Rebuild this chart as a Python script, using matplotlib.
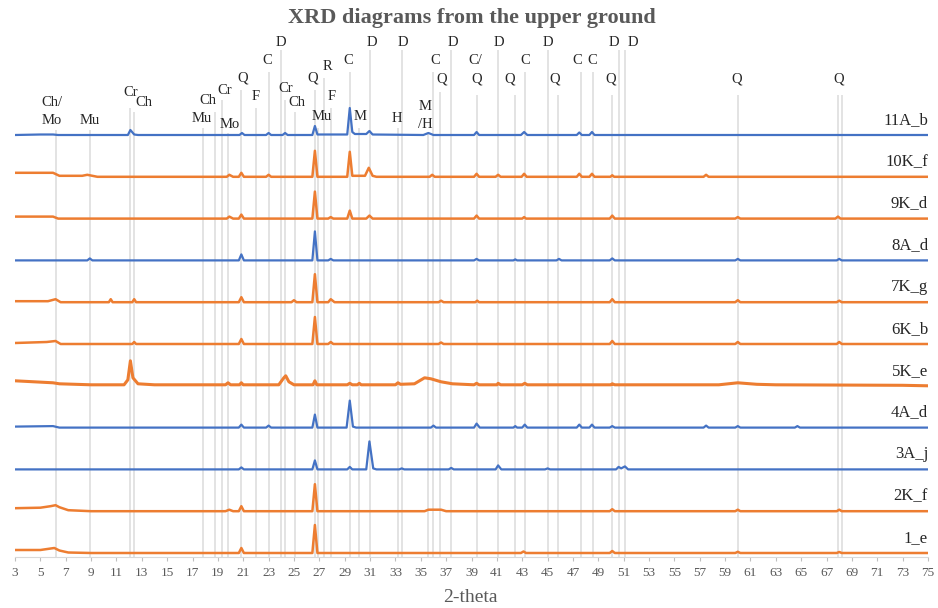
import numpy as np
import matplotlib
matplotlib.use("Agg")
import matplotlib.pyplot as plt

plt.rcParams['font.family'] = ['Liberation Serif', 'DejaVu Serif']

# samples, bottom to top
samples = ['1_e', '2K_f', '3A_j', '4A_d', '5K_e', '6K_b', '7K_g', '8A_d', '9K_d', '10K_f', '11A_b']
colors = ['#ED7D31', '#ED7D31', '#4472C4', '#4472C4', '#ED7D31', '#ED7D31',
          '#ED7D31', '#4472C4', '#ED7D31', '#ED7D31', '#4472C4']

# (2-theta, intensity above each trace's own baseline)
traces = {
    '1_e': [(3, 3), (5.0, 3), (6.1, 5), (6.5, 2.5), (7.2, 0.5), (9, 0), (20.65, 0), (20.85, 5), (21.05, 0),
            (26.45, 0), (26.65, 28), (26.85, 0), (42.9, 0), (43.1, 1.5), (43.3, 0), (49.9, 0), (50.1, 2),
            (50.3, 0), (59.8, 0), (60.0, 1.2), (60.2, 0), (67.8, 0), (68.0, 1), (68.2, 0), (75, 0)],
    '2K_f': [(3, 3), (5.0, 3.5), (5.8, 5), (6.2, 6), (6.5, 4), (7.2, 1), (9, 0), (19.6, 0), (19.9, 1.5),
             (20.2, 0), (20.65, 0), (20.85, 5), (21.05, 0), (26.45, 0), (26.65, 27), (26.85, 0), (35.3, 0),
             (35.6, 1.5), (36.6, 1.5), (37.0, 0), (49.9, 0), (50.1, 2), (50.3, 0), (59.8, 0), (60.0, 1.5),
             (60.2, 0), (67.8, 0), (68.0, 1.5), (68.2, 0), (75, 0)],
    '3A_j': [(3, 0), (20.65, 0), (20.85, 2), (21.05, 0), (26.45, 0), (26.65, 9), (26.85, 0), (29.2, 0),
             (29.4, 2.5), (29.6, 0), (30.7, 0), (30.95, 28), (31.25, 1), (31.5, 0), (33.3, 0), (33.5, 1),
             (33.7, 0), (37.2, 0), (37.4, 1.5), (37.6, 0), (40.9, 0), (41.1, 4), (41.35, 0), (44.8, 0),
             (45.0, 1), (45.2, 0), (50.4, 0), (50.6, 2.5), (50.8, 1), (51.1, 3), (51.35, 0), (75, 0)],
    '4A_d': [(3, 1), (6.0, 1.5), (6.5, 0), (20.65, 0), (20.85, 3), (21.05, 0), (22.8, 0), (23.0, 2),
             (23.2, 0), (26.45, 0), (26.65, 13), (26.85, 0), (29.15, 0), (29.4, 27), (29.65, 1), (29.9, 0),
             (35.8, 0), (36.0, 2), (36.2, 0), (39.2, 0), (39.4, 4), (39.65, 0), (42.3, 0), (42.45, 1.5),
             (42.6, 0), (43.0, 0), (43.2, 3), (43.4, 0), (47.3, 0), (47.5, 3), (47.7, 0), (48.3, 0),
             (48.5, 3), (48.7, 0), (49.9, 0), (50.1, 1.5), (50.3, 0), (57.3, 0), (57.5, 2), (57.7, 0),
             (59.8, 0), (60.0, 1.5), (60.2, 0), (64.5, 0), (64.7, 1.5), (64.9, 0), (75, 0)],
    '5K_e': [(3, 5), (4.5, 4), (6.0, 3), (6.5, 2), (9, 1), (11.6, 1), (11.9, 6), (12.1, 25), (12.3, 8),
             (12.7, 2), (14, 1), (19.6, 1), (19.8, 3), (20.0, 1), (20.7, 1), (20.85, 3), (21.0, 1),
             (23.8, 1), (24.2, 8), (24.35, 10), (24.6, 4), (25.0, 1), (26.5, 1), (26.65, 5), (26.8, 1),
             (29.2, 1), (29.4, 2.5), (29.6, 1), (30.0, 1), (30.15, 2.5), (30.3, 1), (33.0, 1), (33.2, 3),
             (33.4, 1.5), (34.5, 2), (35.3, 8), (35.8, 7), (36.6, 4), (37.5, 2), (39.2, 1), (39.4, 2.5),
             (39.6, 1), (41.0, 1), (41.1, 2.5), (41.3, 1), (43.0, 1), (43.2, 2.5), (43.4, 1), (50.0, 1),
             (50.1, 2), (50.3, 1), (58.5, 1), (60.0, 3), (61.5, 1.5), (63, 1), (73, 0.5), (75, 0)],
    '6K_b': [(3, 1), (5.5, 2), (6.2, 3), (6.6, 0), (12.25, 0), (12.4, 2), (12.55, 0), (20.65, 0),
             (20.85, 5), (21.05, 0), (26.45, 0), (26.65, 27), (26.85, 0), (27.7, 0), (27.9, 2), (28.1, 0),
             (36.4, 0), (36.6, 1.5), (36.8, 0), (49.9, 0), (50.1, 3), (50.3, 0), (59.8, 0), (60.0, 2),
             (60.2, 0), (67.8, 0), (68.0, 2), (68.2, 0), (75, 0)],
    '7K_g': [(3, 1), (5.6, 1), (6.2, 3), (6.6, 0), (10.4, 0), (10.55, 3), (10.7, 0), (12.25, 0), (12.4, 3),
             (12.55, 0), (20.65, 0), (20.85, 5), (21.05, 0), (24.8, 0), (25.0, 2), (25.2, 0), (26.45, 0),
             (26.65, 28), (26.85, 0), (27.7, 0), (27.9, 3), (28.2, 0), (36.4, 0), (36.6, 1.5), (36.8, 0),
             (39.3, 0), (39.45, 1.5), (39.6, 0), (49.9, 0), (50.1, 3), (50.3, 0), (59.8, 0), (60.0, 2),
             (60.2, 0), (67.8, 0), (68.0, 1.5), (68.2, 0), (75, 0)],
    '8A_d': [(3, 0), (8.7, 0), (8.9, 2), (9.1, 0), (20.65, 0), (20.85, 6), (21.05, 0), (26.45, 0),
             (26.65, 29), (26.85, 0), (27.7, 0), (27.9, 1.5), (28.1, 0), (39.2, 0), (39.4, 1.5), (39.6, 0),
             (42.3, 0), (42.45, 1), (42.6, 0), (45.7, 0), (45.9, 1.5), (46.1, 0), (49.9, 0), (50.1, 2),
             (50.3, 0), (59.8, 0), (60.0, 1.5), (60.2, 0), (67.8, 0), (68.0, 1.5), (68.2, 0), (75, 0)],
    '9K_d': [(3, 2), (6.0, 2), (6.4, 0), (19.7, 0), (19.9, 2), (20.2, 0), (20.65, 0), (20.85, 4), (21.05, 0),
             (26.45, 0), (26.65, 27), (26.85, 0), (27.7, 0), (27.9, 1.5), (28.1, 0), (29.2, 0), (29.4, 8),
             (29.6, 0), (30.7, 0), (30.95, 3), (31.2, 0), (39.2, 0), (39.4, 3), (39.6, 0), (43.0, 0),
             (43.15, 1.5), (43.3, 0), (49.9, 0), (50.1, 3), (50.3, 0), (59.8, 0), (60.0, 1.5), (60.2, 0),
             (67.7, 0), (67.9, 2), (68.1, 0), (75, 0)],
    '10K_f': [(3, 4), (5, 4), (6.0, 4), (6.5, 1), (8.3, 1), (8.7, 2), (9.1, 1), (9.5, 0), (19.7, 0),
              (19.9, 2), (20.2, 0), (20.65, 0), (20.85, 4), (21.05, 0), (22.8, 0), (23.0, 2), (23.2, 0),
              (26.45, 0), (26.65, 26), (26.85, 0), (29.2, 0), (29.4, 25), (29.6, 1), (30.6, 1), (30.9, 9),
              (31.2, 1), (31.5, 0), (35.7, 0), (35.9, 2), (36.1, 0), (39.2, 0), (39.4, 3), (39.6, 0),
              (40.9, 0), (41.1, 2), (41.3, 0), (42.95, 0), (43.15, 3), (43.35, 0), (47.3, 0), (47.5, 3),
              (47.7, 0), (48.3, 0), (48.5, 3), (48.7, 0), (49.95, 0), (50.1, 1.5), (50.25, 0), (57.3, 0),
              (57.5, 2), (57.7, 0), (75, 0)],
    '11A_b': [(3, 0), (5, 0.5), (6.0, 0.5), (6.4, 0), (11.9, 0), (12.1, 5), (12.4, 0.5), (12.7, 0),
              (20.7, 0), (20.9, 2), (21.1, 0), (22.8, 0), (23.0, 2), (23.2, 0), (24.1, 0), (24.3, 2),
              (24.5, 0), (26.45, 0), (26.65, 9), (26.85, 0.5), (29.2, 0.5), (29.4, 27), (29.6, 3),
              (29.8, 1), (30.7, 1), (30.95, 4), (31.2, 0.5), (35.2, 0), (35.6, 2), (36.0, 0), (39.2, 0),
              (39.4, 3), (39.6, 0), (42.9, 0), (43.15, 3), (43.4, 0), (47.3, 0), (47.5, 2.5), (47.7, 0),
              (48.3, 0), (48.5, 3), (48.7, 0), (75, 0)],
}

# reference peak positions and the height the grey line reaches (px from top)
ref_pos = [6.2, 8.9, 12.1, 12.4, 17.8, 18.8, 19.3, 19.8, 20.85, 22.0, 23.0, 23.95, 24.3, 25.05,
           26.65, 26.9, 27.35, 27.9, 29.4, 30.15, 31.0, 33.2, 33.55, 35.55, 36.0, 36.55, 37.4,
           39.45, 41.1, 42.45, 43.2, 45.05, 45.85, 47.6, 48.6, 50.1, 50.6, 51.1, 60.0, 67.9, 68.2]
ref_top = [130, 130, 108, 112, 128, 112, 100, 133, 90, 108, 72, 50, 100, 112,
           90, 128, 78, 108, 72, 128, 50, 128, 50, 133, 72, 92, 50,
           95, 50, 95, 72, 50, 95, 72, 72, 95, 50, 50, 95, 95, 95]

# phase labels: text, 2-theta, px from top
phase_txt = ['Ch/', 'Mo', 'Mu', 'Cr', 'Ch', 'Ch', 'Mu', 'Cr', 'Mo', 'Q', 'F', 'C', 'D', 'Cr', 'Ch',
             'Q', 'R', 'F', 'Mu', 'C', 'M', 'D', 'H', 'D', 'M', '/H', 'C', 'Q', 'D',
             'C/', 'Q', 'D', 'Q', 'C', 'D', 'Q', 'C', 'C', 'Q', 'D', 'D', 'Q', 'Q']
phase_x = [5.92, 5.92, 8.91, 12.1, 13.15, 18.22, 17.75, 19.56, 19.96, 20.98, 22.0, 22.87, 23.98,
           24.35, 25.2, 26.5, 27.6, 28.0, 27.2, 29.26, 30.2, 31.15, 33.1, 33.6, 35.33, 35.33,
           36.12, 36.67, 37.54, 39.28, 39.44, 41.17, 42.04, 43.22, 45.03, 45.59, 47.32, 48.5,
           50.0, 50.24, 51.74, 59.94, 67.98]
phase_y = [103, 121, 121, 93, 102, 101, 119, 90, 124, 78, 97, 60, 42, 88, 102,
           78, 67, 97, 117, 60, 117, 42, 118, 42, 107, 125, 60, 79, 42,
           60, 79, 42, 79, 60, 42, 79, 60, 60, 79, 42, 42, 79, 79]

W, H = 938, 608
bottom_px = 557
spacing = 41.8

fig = plt.figure(figsize=(W / 100, H / 100), dpi=100)
ax = fig.add_axes([15 / W, 1 - bottom_px / H, 913 / W, bottom_px / H])
ax.set_xlim(3, 75)
ax.set_ylim(0, bottom_px)

ax.vlines(ref_pos, 0, [bottom_px - t for t in ref_top], color='#e3e3e3', lw=1.4, zorder=1)

for i, name in enumerate(samples):
    pts = np.array(traces[name])
    base = 4 + i * spacing
    if name == '5K_e':
        lw = 2.2
    elif colors[i] == '#ED7D31':
        lw = 1.8
    else:
        lw = 1.6
    ax.plot(pts[:, 0], pts[:, 1] + base, color=colors[i], lw=lw, zorder=3)
    ax.text(75, base + 15, name, ha='right', va='center', fontsize=12, color='#262626')

for t, x, y in zip(phase_txt, phase_x, phase_y):
    ax.text(x, bottom_px - y, t, ha='center', va='center', fontsize=10.5, color='#262626')

ax.set_xticks(np.arange(3, 76, 2))
ax.tick_params(axis='x', length=3, color='#bfbfbf', labelsize=9.5, labelcolor='#595959', pad=4)
ax.set_yticks([])
for s in ['left', 'right', 'top']:
    ax.spines[s].set_visible(False)
ax.spines['bottom'].set_color('#d9d9d9')

fig.text(471.5 / W, 1 - 18 / H, 'XRD diagrams from the upper ground', ha='center', va='center',
         fontsize=16, fontweight='bold', color='#595959')
fig.text(470 / W, 1 - 597 / H, '2-theta', ha='center', va='center', fontsize=14, color='#595959')

fig.savefig('out.png', dpi=100)
